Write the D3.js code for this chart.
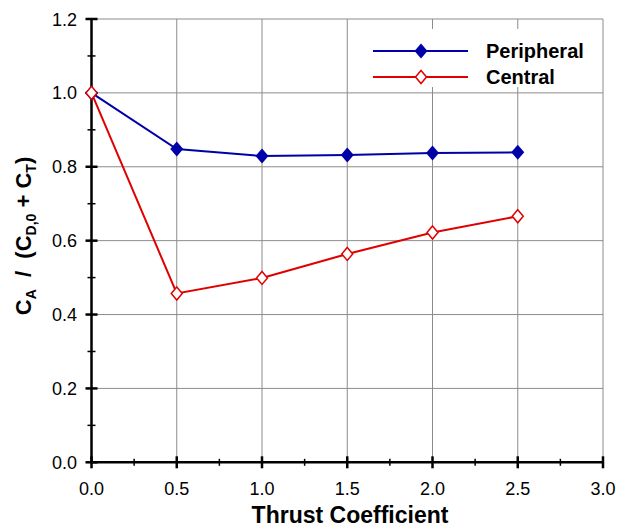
<!DOCTYPE html>
<html><head><meta charset="utf-8">
<script src="https://cdn.jsdelivr.net/npm/d3@7"></script>
<style>body{margin:0;background:#fff}svg{font-family:"Liberation Sans",Arial,sans-serif}</style>
</head><body>
<script>
const xValues = [0, 0.5, 1.0, 1.5, 2.0, 2.5];
const peripheral = [1.0, 0.848, 0.829, 0.832, 0.837, 0.839];
const central = [1.0, 0.457, 0.499, 0.564, 0.622, 0.666];
const seriesNames = ["Peripheral", "Central"];
const xTicks = [0, 0.5, 1.0, 1.5, 2.0, 2.5, 3.0];
const yTicks = [0, 0.2, 0.4, 0.6, 0.8, 1.0, 1.2];

const W = 617, H = 529;
const svg = d3.select("body").append("svg").attr("width", W).attr("height", H);
const x = d3.scaleLinear().domain([0, 3]).range([91.5, 603]);
const y = d3.scaleLinear().domain([0, 1.2]).range([462.3, 19]);

const grid = svg.append("g").attr("stroke", "#8c8c8c").attr("stroke-width", 1);
xTicks.forEach(t => { if (t > 0) grid.append("line").attr("x1", x(t)).attr("x2", x(t)).attr("y1", y(0)).attr("y2", y(1.2)); });
yTicks.forEach(t => { if (t > 0) grid.append("line").attr("x1", x(0)).attr("x2", x(3)).attr("y1", y(t)).attr("y2", y(t)); });

// legend background
svg.append("rect").attr("x", 360).attr("y", 29).attr("width", 240).attr("height", 58).attr("fill", "#fff");

// axes
const ax = svg.append("g").attr("stroke", "#000");
ax.append("line").attr("x1", x(0)).attr("x2", x(0)).attr("y1", y(0)).attr("y2", y(1.2)).attr("stroke-width", 2.5);
ax.append("line").attr("x1", x(0)).attr("x2", x(3)).attr("y1", y(0)).attr("y2", y(0)).attr("stroke-width", 2.5);
d3.range(0, 13).forEach(i => {
  const v = i / 10, major = i % 2 === 0, len = major ? 6 : 4;
  ax.append("line").attr("x1", x(0) - len).attr("x2", x(0) + len).attr("y1", y(v)).attr("y2", y(v)).attr("stroke-width", major ? 2.5 : 1.5);
});
d3.range(0, 13).forEach(i => {
  const v = i / 4, major = i % 2 === 0, len = major ? 6 : 3.5;
  ax.append("line").attr("x1", x(v)).attr("x2", x(v)).attr("y1", y(0) - len).attr("y2", y(0) + len).attr("stroke-width", major ? 2.5 : 1.5);
});

svg.append("g").selectAll("text").data(yTicks).join("text")
  .attr("x", 77).attr("y", d => y(d) + 6.5).attr("text-anchor", "end")
  .attr("font-size", 18).text(d => d.toFixed(1));
svg.append("g").selectAll("text").data(xTicks).join("text")
  .attr("x", d => x(d)).attr("y", 495).attr("text-anchor", "middle")
  .attr("font-size", 18).text(d => d.toFixed(1));

svg.append("text").attr("x", 350).attr("y", 523).attr("text-anchor", "middle")
  .attr("font-size", 23).attr("font-weight", "bold").text("Thrust Coefficient");

const yl = svg.append("text").attr("transform", "translate(31,236) rotate(-90)")
  .attr("text-anchor", "middle").attr("font-size", 22).attr("font-weight", "bold")
  .attr("xml:space", "preserve").style("white-space", "pre");
yl.append("tspan").text("C");
yl.append("tspan").attr("font-size", 14).attr("dy", 5).text("A");
yl.append("tspan").attr("dy", -5).text("  /  (C");
yl.append("tspan").attr("font-size", 14).attr("dy", 5).text("D,0");
yl.append("tspan").attr("dy", -5).text(" + C");
yl.append("tspan").attr("font-size", 14).attr("dy", 5).text("T");
yl.append("tspan").attr("dy", -5).text(")");

const line = d3.line().x(d => x(d[0])).y(d => y(d[1]));
const diamond = (cx, cy, w, h) => `M${cx},${cy - h}L${cx + w},${cy}L${cx},${cy + h}L${cx - w},${cy}Z`;
const blue = "#0000a8", red = "#e00000";

const pData = xValues.map((v, i) => [v, peripheral[i]]);
const cData = xValues.map((v, i) => [v, central[i]]);
svg.append("path").attr("d", line(cData)).attr("fill", "none").attr("stroke", red).attr("stroke-width", 2);
svg.append("path").attr("d", line(pData)).attr("fill", "none").attr("stroke", blue).attr("stroke-width", 2);
svg.append("g").selectAll("path").data(pData).join("path")
  .attr("d", d => diamond(x(d[0]), y(d[1]), 6.5, 7.5)).attr("fill", blue);
svg.append("g").selectAll("path").data(cData).join("path")
  .attr("d", d => diamond(x(d[0]), y(d[1]), 5.5, 6.5)).attr("fill", "#fff").attr("stroke", red).attr("stroke-width", 1.5);

// legend
const lg = svg.append("g");
[[blue, 51, true], [red, 77, false]].forEach(([c, ly, filled], i) => {
  lg.append("line").attr("x1", 373).attr("x2", 468).attr("y1", ly).attr("y2", ly).attr("stroke", c).attr("stroke-width", 2);
  lg.append("path").attr("d", filled ? diamond(421, ly, 6.5, 7.5) : diamond(421, ly, 5.5, 6.5))
    .attr("fill", filled ? c : "#fff").attr("stroke", filled ? "none" : c).attr("stroke-width", 1.5);
  lg.append("text").attr("x", 486).attr("y", ly + 7).attr("font-size", 20).attr("font-weight", "bold").text(seriesNames[i]);
});
</script>
</body></html>
